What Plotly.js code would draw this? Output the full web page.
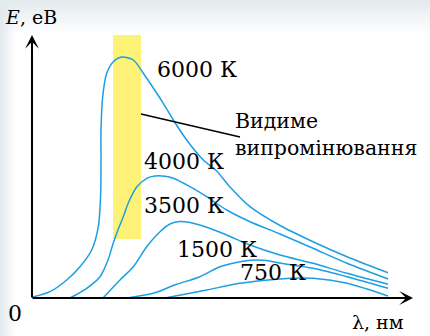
<!DOCTYPE html>
<html>
<head>
<meta charset="utf-8">
<script src="https://cdn.plot.ly/plotly-3.0.1.min.js"></script>
<style>
html,body{margin:0;padding:0;}
body{
  width:430px;height:336px;overflow:hidden;
  background:
    linear-gradient(to right, rgba(226,234,237,1) 0px, rgba(255,255,255,0) 16px),
    linear-gradient(to bottom, rgba(226,234,237,1) 0px, rgba(255,255,255,0) 34px),
    #ffffff;
}
#chart{width:430px;height:336px;}
</style>
</head>
<body>
<div id="chart"></div>
<script>
// Curves (arbitrary units: wavelength → right, energy → up)
const x6000 = [1,18,34.7,48,59.7,66.3,68.7,69,69,70.7,74.7,81.3,90,101.3,111.3,121.3,131.3,141.3,154.7,171.3,184.7,198,218,248,281,315,356];
const y6000 = [1,6.3,18,31.3,48,71.3,104.7,138,168,201.3,224.7,236.3,241,238,224.7,210,194.7,178,158,138,127,111,91.3,72.5,56.3,41.3,25.3];

const x4000 = [38,54.7,68,76,81.3,86,91.3,96.3,104.7,114.7,123,133,141.3,158,174.7,194.7,218,248,281,315,356];
const y4000 = [0,9.7,21.3,38,55,68,81.3,95,111,119.7,122,121.7,119.7,111.3,101.3,88,76.3,64,49.7,34.7,19];

const x3500 = [71,88,101.3,114.7,128,138,148,158,174.7,194.7,218,248,281,315,356];
const y3500 = [0,18,31.3,51.3,66.3,74,76.5,75.5,70.7,63,53,43,34.7,24.7,13.7];

const x1500 = [95,121.3,144,168,188,208,223,234.7,248,281,315,356];
const y1500 = [0,4.7,13.5,21.3,31.3,36.3,38,37.5,35,29.7,21.3,9.7];

const x750 = [133,174.7,208,248,268,281,315,356];
const y750 = [0,8,14.7,19,20,19.7,14.7,2];

const curveLabels = ["6000 К","4000 К","3500 К","1500 К","750 К"];
const visibleLabel = "Видиме<br>випромінювання";
const xTitle = "λ, нм";
const yTitle = "<i>E</i>, еВ";
const originLabel = "0";

const blue = "#1c9fe2";
const serif = "DejaVu Serif, serif";

function curve(x,y){
  return {x:x,y:y,type:"scatter",mode:"lines",
    line:{color:blue,width:1.5,shape:"spline",smoothing:0.8},hoverinfo:"skip",showlegend:false};
}

const data = [curve(x6000,y6000),curve(x4000,y4000),curve(x3500,y3500),curve(x1500,y1500),curve(x750,y750)];

function lab(text,x,y,size,anchor){
  return {text:text,x:x,y:y,xref:"x",yref:"y",showarrow:false,xanchor:anchor||"left",yanchor:"middle",
    font:{family:serif,size:size||22,color:"#000"}};
}

const annotations = [
  lab(curveLabels[0],123,229),
  lab(curveLabels[1],109.5,136.5),
  lab(curveLabels[2],109.5,92.5),
  lab(curveLabels[3],143,48.5),
  lab(curveLabels[4],206,25.5),
  {text:visibleLabel,x:201,y:164,xref:"x",yref:"y",showarrow:false,xanchor:"left",yanchor:"middle",align:"left",
    font:{family:serif,size:20.5,color:"#000"}},
  lab(yTitle,-29,281,19),
  lab(xTitle,318,-24,19),
  lab(originLabel,-26,-15,22),
  // axes with arrowheads
  {x:381,y:0,ax:-1,ay:0,xref:"x",yref:"y",axref:"x",ayref:"y",text:"",showarrow:true,
    arrowhead:3,arrowsize:1.15,arrowwidth:2,arrowcolor:"#000"},
  {x:0,y:263,ax:0,ay:-1,xref:"x",yref:"y",axref:"x",ayref:"y",text:"",showarrow:true,
    arrowhead:3,arrowsize:1.15,arrowwidth:2,arrowcolor:"#000"}
];

const shapes = [
  {type:"rect",xref:"x",yref:"y",x0:81,x1:109,y0:59,y1:263,fillcolor:"#fdf276",line:{width:0},layer:"below"},
  {type:"line",xref:"x",yref:"y",x0:109,y0:184,x1:208,y1:161,line:{color:"#000",width:1.3},layer:"above"}
];

const layout = {
  width:430,height:336,
  margin:{l:0,r:0,t:0,b:0,pad:0},
  paper_bgcolor:"rgba(0,0,0,0)",plot_bgcolor:"rgba(0,0,0,0)",
  xaxis:{range:[-32,398],visible:false,fixedrange:true},
  yaxis:{range:[-38,298],visible:false,fixedrange:true},
  showlegend:false,
  annotations:annotations,
  shapes:shapes
};

Plotly.newPlot("chart",data,layout,{displayModeBar:false,staticPlot:true});
</script>
</body>
</html>
